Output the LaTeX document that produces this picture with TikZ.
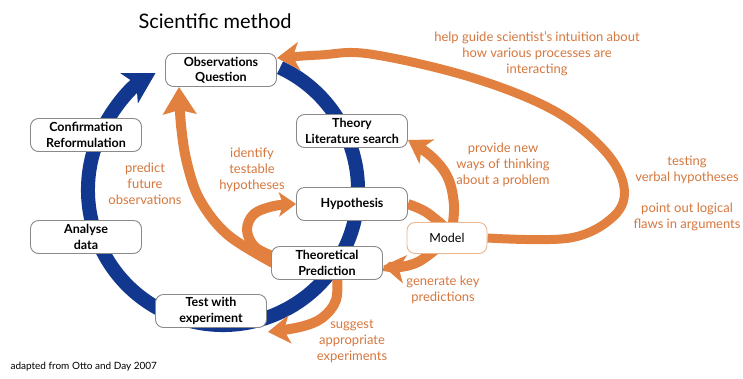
\documentclass[tikz,border=0pt]{standalone}
\usepackage{fontspec}
\setmainfont{Lato}
\usetikzlibrary{arrows.meta,backgrounds}
\definecolor{sblue}{HTML}{12378F}
\definecolor{sorange}{HTML}{E2803F}
\definecolor{otext}{HTML}{D6773D}
\definecolor{boxgray}{HTML}{8A8A8A}
\definecolor{modelb}{HTML}{EBB58E}
\begin{document}
\begin{tikzpicture}[x=1pt,y=-1pt,
  box/.style={draw=boxgray, line width=0.9pt, rounded corners=8pt, fill=white,
    minimum width=111pt, minimum height=33pt, align=center, inner sep=1pt,
    font=\bfseries\fontsize{12.5}{15.5}\selectfont},
  otxt/.style={text=otext, align=center, font=\fontsize{13}{16}\selectfont},
  ring/.style={draw=sblue, line width=14pt, -{Stealth[length=30pt,width=34pt,inset=8pt]}},
  oline/.style={draw=sorange, line width=10pt},
  ohead/.style={-{Stealth[length=22pt,width=28pt,inset=6pt]}},
  obig/.style={-{Stealth[length=27pt,width=33pt,inset=4pt]}},
  osmall/.style={-{Stealth[length=17pt,width=24pt,inset=4pt]}}
]
\useasboundingbox (0,0) rectangle (743,378);

% title and footer
\node[font=\fontsize{20}{22}\selectfont] (title) at (215,21) {Scientific method};
\node[anchor=west, font=\fontsize{10}{12}\selectfont] (foot) at (7,367) {adapted from Otto and Day 2007};

% boxes
\node[box] (obs) at (221,70) {Observations\\Question};
\node[box] (conf) at (86,135) {Confirmation\\Reformulation};
\node[box] (thy) at (352,131) {Theory\\Literature search};
\node[box] (hyp) at (352,204) {Hypothesis};
\node[box] (tp) at (327,263) {Theoretical\\Prediction};
\node[box, draw=modelb, minimum width=80pt, minimum height=31pt] (model) at (447,238) {\mdseries Model};
\node[box] (ana) at (86,237) {Analyse\\data};
\node[box] (test) at (211,311) {Test with\\experiment};

% orange labels
\node[otxt] (l1) at (537,54) {help guide scientist’s intuition about\\how various processes are\\interacting};
\node[otxt] (l2) at (503,165) {provide new\\ways of thinking\\about a problem};
\node[otxt] (l3) at (687,170) {testing\\verbal hypotheses};
\node[otxt] (l4) at (687,217) {point out logical\\flaws in arguments};
\node[otxt] (l5) at (443,290) {generate key\\predictions};
\node[otxt] (l6) at (352,341) {suggest\\appropriate\\experiments};
\node[otxt] (l7) at (145,184) {predict\\future\\observations};
\node[otxt] (l8) at (252,170) {identify\\testable\\hypotheses};

% helper coordinates
\coordinate (ringc) at (223,190);
\coordinate (obsin) at ([yshift=12pt]obs.east);
\coordinate (predtip) at ([xshift=-42pt]obs.south);
\coordinate (thytip) at ([yshift=-9pt]thy.east);
\coordinate (tptip) at ([yshift=-3pt]tp.east);
\coordinate (testtip) at ([shift={(1pt,-4pt)}]test.south east);
\coordinate (modtop) at ([xshift=5pt,yshift=-8pt]model.north);
\coordinate (modbot) at ([xshift=-12pt,yshift=4pt]model.south);
\coordinate (tpleft) at ([xshift=4pt,yshift=-1pt]tp.west);
\coordinate (tpleft2) at ([xshift=4pt,yshift=6pt]tp.west);
\coordinate (tpbot) at ([xshift=10pt,yshift=6pt]tp.south);

\begin{pgfonlayer}{background}
  \fill[white] (0,0) rectangle (743,378);
  % blue cycle
  \draw[ring] (ringc) ++(-65:135) arc[start angle=-65, end angle=240, radius=135];
  % big model loop
  \draw[oline, ohead, line width=9pt] plot[smooth, tension=0.6] coordinates
    {(model.east) (570,238) (614,216) (624,187) (604,150) (553,110) (470,77) (370,54) (320,55) (obsin)};
  % predict future observations
  \draw[oline, obig] plot[smooth, tension=0.6] coordinates
    {(tpleft) (228,235) (200,200) (187,163) (181,125) (predtip)};
  % identify testable hypotheses loop
  \draw[oline, osmall] plot[smooth, tension=0.6] coordinates
    {(tpleft2) (255,247) (247,230) (254,214) (274,206) (hyp.west)};
  % hypothesis - model
  \draw[oline] plot[smooth, tension=0.6] coordinates
    {(hyp.east) (426,212) (446,228)};
  % model -> theory
  \draw[oline, ohead] plot[smooth, tension=0.6] coordinates
    {(modtop) (454,205) (448,178) (432,157) (thytip)};
  % model -> theoretical prediction
  \draw[oline, ohead] plot[smooth, tension=0.6] coordinates
    {(modbot) (418,262) (400,267) (tptip)};
  % theoretical prediction -> test
  \draw[oline, ohead] plot[smooth, tension=0.6] coordinates
    {(tpbot) (336,300) (322,318) (300,327) (testtip)};
\end{pgfonlayer}
\end{tikzpicture}
\end{document}
